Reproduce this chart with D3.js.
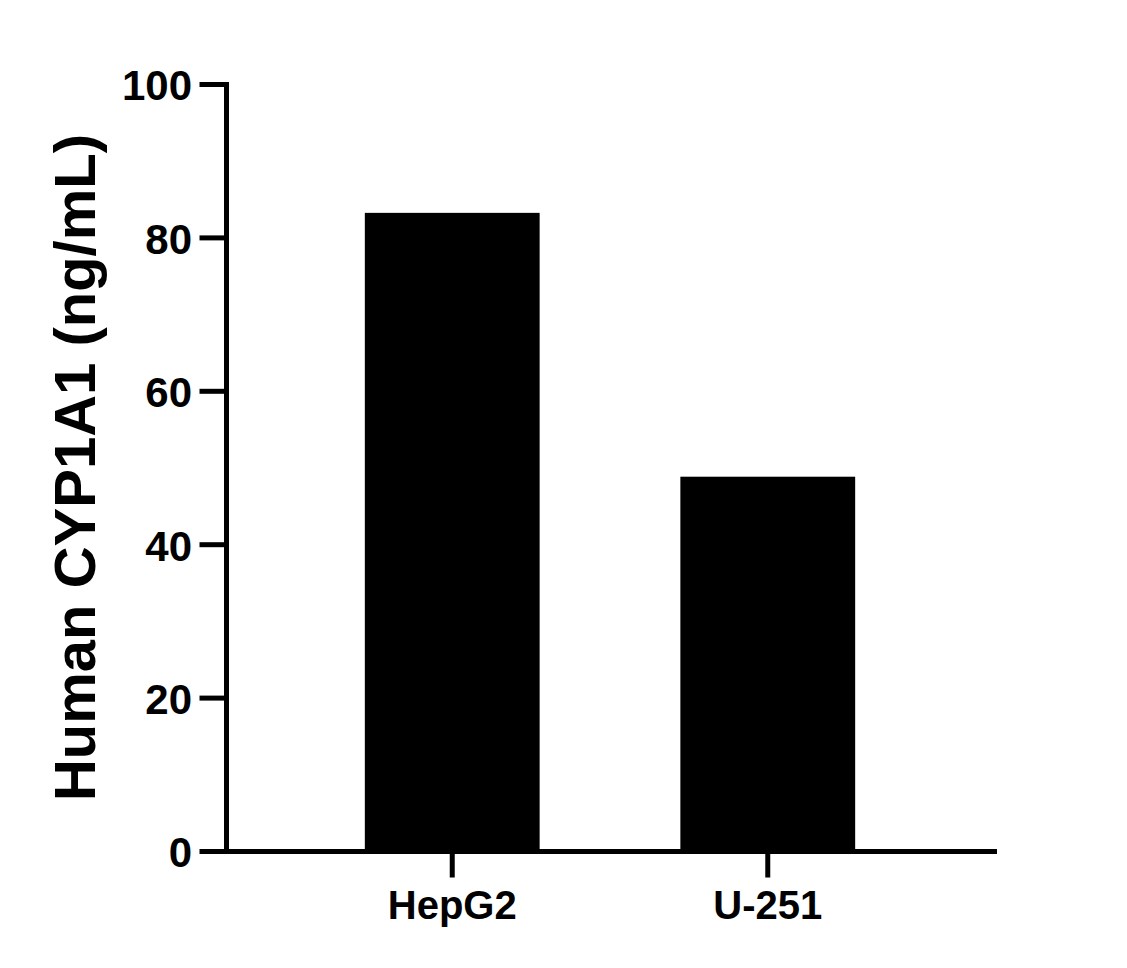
<!DOCTYPE html>
<html>
<head>
<meta charset="utf-8">
<script src="https://cdn.jsdelivr.net/npm/d3@7"></script>
<style>
  html, body { margin: 0; padding: 0; background: #fff; }
  svg { display: block; }
  text { font-family: "Liberation Sans", Arial, Helvetica, sans-serif; font-weight: bold; fill: #000; }
</style>
</head>
<body>
<div id="chart"></div>
<script>
const categories = ["HepG2", "U-251"];
const values = [83.2, 48.8];
const yTicks = [0, 20, 40, 60, 80, 100];

const WIDTH = 1127;
const HEIGHT = 968;
const PLOT = { left: 226, right: 994, top: 84, bottom: 851 };
const AXIS_WIDTH = 5;
const TICK_LEN = 24;

const svg = d3
  .select("#chart")
  .append("svg")
  .attr("width", WIDTH)
  .attr("height", HEIGHT);

const x = d3
  .scaleBand()
  .domain(categories)
  .range([PLOT.left, PLOT.right])
  .paddingInner(0.446)
  .paddingOuter(0.44);

const y = d3
  .scaleLinear()
  .domain([0, 100])
  .range([PLOT.bottom, PLOT.top]);

// bars
svg
  .selectAll("rect.bar")
  .data(values)
  .enter()
  .append("rect")
  .attr("class", "bar")
  .attr("x", (d, i) => x(categories[i]))
  .attr("y", (d) => y(d))
  .attr("width", x.bandwidth())
  .attr("height", (d) => y(0) - y(d))
  .attr("fill", "#000");

// y axis
const yAxis = svg
  .append("g")
  .attr("transform", `translate(${PLOT.left},0)`)
  .call(d3.axisLeft(y).tickValues(yTicks).tickSize(TICK_LEN).tickSizeOuter(0).tickPadding(10));

// x axis
const xAxis = svg
  .append("g")
  .attr("transform", `translate(0,${PLOT.bottom})`)
  .call(d3.axisBottom(x).tickSize(TICK_LEN).tickSizeOuter(0).tickPadding(14));

svg.selectAll(".domain, .tick line")
  .attr("stroke", "#000")
  .attr("stroke-width", AXIS_WIDTH)
  .attr("stroke-linecap", "square");

svg.selectAll("g").attr("font-family", null).attr("font-size", null);

yAxis.selectAll(".tick text")
  .attr("dy", "0.38em")
  .style("font-size", "42px");

xAxis.selectAll(".tick text")
  .attr("dy", "0.74em")
  .style("font-size", "40px");

svg.selectAll(".tick text").attr("fill", "#000");

// y axis title
svg
  .append("text")
  .attr("transform", `translate(95,${(PLOT.top + PLOT.bottom) / 2}) rotate(-90)`)
  .attr("text-anchor", "middle")
  .style("font-size", "58px")
  .text("Human CYP1A1 (ng/mL)");
</script>
</body>
</html>
